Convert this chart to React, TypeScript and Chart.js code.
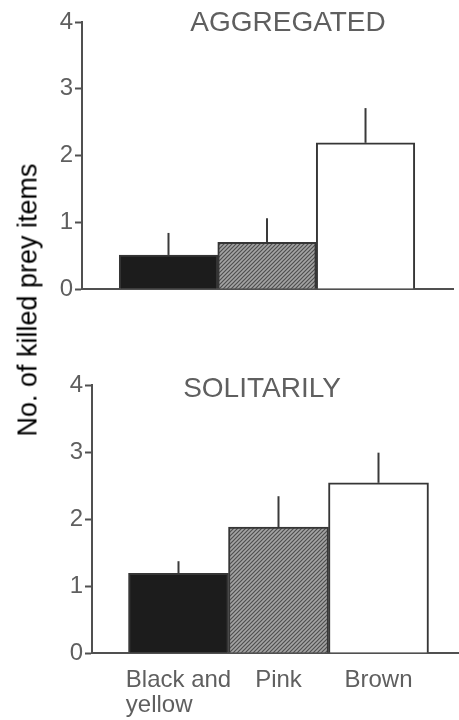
import React, { useEffect, useRef } from "react";
import { Chart, registerables } from "chart.js";

Chart.register(...registerables);

const categories: string[][] = [["Black and", "yellow"], ["Pink"], ["Brown"]];
const aggregatedMeans = [0.51, 0.7, 2.19];
const aggregatedErrors = [0.33, 0.36, 0.52];
const solitaryMeans = [1.19, 1.88, 2.54];
const solitaryErrors = [0.18, 0.46, 0.45];
const yTicks = [0, 1, 2, 3, 4];
const panelTitles = ["AGGREGATED", "SOLITARILY"];
const yAxisTitle = "No. of killed prey items";

const FONT = "'Liberation Sans', Arial, Helvetica, sans-serif";
const AXIS = "#505050";
const TEXT = "#5f5f5f";

function makeHatch(): CanvasPattern | string {
  const c = document.createElement("canvas");
  c.width = 4;
  c.height = 4;
  const g = c.getContext("2d");
  if (!g) return "#808080";
  g.fillStyle = "#a4a4a4";
  g.fillRect(0, 0, 4, 4);
  g.strokeStyle = "#4e4e4e";
  g.lineWidth = 1.2;
  g.beginPath();
  g.moveTo(0, 4);
  g.lineTo(4, 0);
  g.moveTo(-1, 1);
  g.lineTo(1, -1);
  g.moveTo(3, 5);
  g.lineTo(5, 3);
  g.stroke();
  const p = g.createPattern(c, "repeat");
  return p || "#808080";
}

type PanelProps = {
  means: number[];
  errors: number[];
  title: string;
  titleX: number;
  titleY: number;
  height: number;
  padTop: number;
  padRight: number;
  yAxisWidth: number;
  xAxisHeight: number;
  xMin: number;
  xMax: number;
  showLabels: boolean;
};

function Panel(props: PanelProps) {
  const ref = useRef<HTMLCanvasElement | null>(null);
  useEffect(() => {
    if (!ref.current) return;
    const hatch = makeHatch();
    const overlay = {
      id: "overlay",
      afterDatasetsDraw(chart: any) {
        const ctx = chart.ctx;
        const xs = chart.scales.x;
        const ys = chart.scales.y;
        ctx.save();
        // error whiskers (upper only)
        ctx.strokeStyle = "#3a3a3a";
        ctx.lineWidth = 2;
        props.means.forEach((m, i) => {
          const x = xs.getPixelForValue(i);
          ctx.beginPath();
          ctx.moveTo(x, ys.getPixelForValue(m));
          ctx.lineTo(x, ys.getPixelForValue(m + props.errors[i]));
          ctx.stroke();
        });
        // panel title
        ctx.fillStyle = TEXT;
        ctx.font = `28px ${FONT}`;
        ctx.textAlign = "center";
        ctx.textBaseline = "middle";
        ctx.fillText(props.title, props.titleX, props.titleY);
        // category labels
        if (props.showLabels) {
          ctx.font = `24px ${FONT}`;
          ctx.textAlign = "left";
          ctx.textBaseline = "alphabetic";
          const base = chart.chartArea.bottom + 34;
          categories.forEach((lines, i) => {
            const cx = xs.getPixelForValue(i);
            const w = ctx.measureText(lines[0]).width;
            lines.forEach((ln, k) => {
              ctx.fillText(ln, cx - w / 2, base + k * 25);
            });
          });
        }
        ctx.restore();
      },
    };
    const chart = new Chart(ref.current, {
      type: "bar",
      data: {
        datasets: [
          {
            data: props.means.map((v, i) => ({ x: i, y: v })),
            backgroundColor: ["#1c1c1c", hatch as any, "#ffffff"],
            borderColor: "#363636",
            borderWidth: 2,
            barPercentage: 1,
            categoryPercentage: 1,
          },
        ],
      },
      options: {
        animation: false,
        responsive: false,
        maintainAspectRatio: false,
        layout: { padding: { top: props.padTop, right: props.padRight, left: 0, bottom: 0 } },
        plugins: { legend: { display: false }, tooltip: { enabled: false }, title: { display: false } },
        scales: {
          x: {
            type: "linear",
            offset: false,
            min: props.xMin,
            max: props.xMax,
            afterBuildTicks: (s: any) => {
              s.ticks = categories.map((_, i) => ({ value: i }));
            },
            ticks: { display: false },
            grid: { display: false },
            border: { display: true, color: AXIS, width: 2 },
            afterFit: (s: any) => {
              s.height = props.xAxisHeight;
            },
          },
          y: {
            min: 0,
            max: 4,
            afterBuildTicks: (s: any) => {
              s.ticks = yTicks.map((v) => ({ value: v }));
            },
            ticks: {
              color: TEXT,
              font: { size: 24, family: FONT },
              padding: 2,
            },
            grid: {
              drawOnChartArea: false,
              drawTicks: true,
              tickLength: 7,
              tickColor: AXIS,
              tickWidth: 2,
            },
            border: { display: true, color: AXIS, width: 2 },
            afterFit: (s: any) => {
              s.width = props.yAxisWidth;
            },
          },
        },
      },
      plugins: [overlay],
    } as any);
    return () => chart.destroy();
  }, []);
  return <canvas ref={ref} width={459} height={props.height} style={{ display: "block", width: 459, height: props.height }} />;
}

export default function App() {
  return (
    <div style={{ position: "absolute", left: 0, top: 0, width: 459, height: 720, background: "#fff", overflow: "hidden" }}>
      <div style={{ position: "absolute", left: 0, top: 0 }}>
        <Panel
          means={aggregatedMeans}
          errors={aggregatedErrors}
          title={panelTitles[0]}
          titleX={288}
          titleY={23}
          height={330}
          padTop={22}
          padRight={6}
          yAxisWidth={82}
          xAxisHeight={41}
          xMin={-0.878}
          xMax={2.888}
          showLabels={false}
        />
      </div>
      <div style={{ position: "absolute", left: 0, top: 330 }}>
        <Panel
          means={solitaryMeans}
          errors={solitaryErrors}
          title={panelTitles[1]}
          titleX={262}
          titleY={59}
          height={390}
          padTop={55}
          padRight={0}
          yAxisWidth={92}
          xAxisHeight={67}
          xMin={-0.865}
          xMax={2.805}
          showLabels={true}
        />
      </div>
      <div
        style={{
          position: "absolute",
          left: 28,
          top: 300,
          transform: "translate(-50%, -50%) rotate(-90deg)",
          whiteSpace: "nowrap",
          fontFamily: FONT,
          fontSize: 27,
          color: "#000",
          lineHeight: 1,
        }}
      >
        {yAxisTitle}
      </div>
    </div>
  );
}
